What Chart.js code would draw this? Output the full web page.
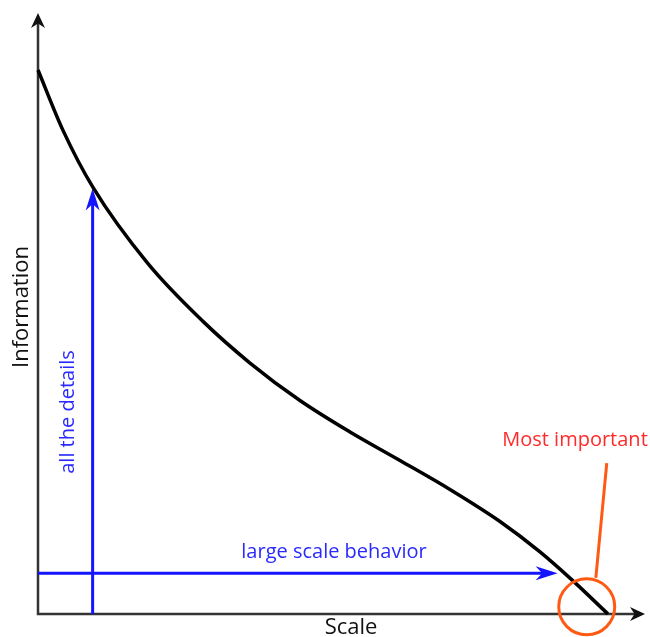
<!DOCTYPE html>
<html>
<head>
<meta charset="utf-8">
<script src="https://cdn.jsdelivr.net/npm/chart.js@4/dist/chart.umd.min.js"></script>
<style>
  html, body { margin: 0; padding: 0; background: #fff; }
  #wrap { width: 650px; height: 637px; }
</style>
</head>
<body>
<div id="wrap"><canvas id="infoChart"></canvas></div>
<script>
// curve: information vs scale (0-100 on both axes)
const scaleVals = [0, 4.12, 9.06, 18.12, 27.18, 34.93, 43.16, 51.4, 59.64, 67.87, 76.11, 82.7, 88.14, 93.9];
const infoVals = [90.52, 80.47, 70.98, 58.3, 48.69, 41.76, 35.52, 30.28, 25.54, 20.72, 15.39, 10.33, 5.51, 0];

// annotation anchors, in data units
const detailsX = 9.0;      // vertical blue arrow
const detailsTop = 70.8;
const largeY = 6.8;        // horizontal blue arrow
const largeEnd = 85.6;
const spot = [90.4, 1.2];  // orange circle centre
const leader = [[91.9, 6.0], [93.7, 25.1]];

const points = scaleVals.map((x, i) => ({ x: x, y: infoVals[i] }));

function arrowHead(ctx, x, y, angle, len, half, color) {
  ctx.save();
  ctx.translate(x, y);
  ctx.rotate(angle);
  ctx.fillStyle = color;
  ctx.beginPath();
  ctx.moveTo(0, 0);
  ctx.lineTo(-len, -half);
  ctx.lineTo(-len * 0.7, 0);
  ctx.lineTo(-len, half);
  ctx.closePath();
  ctx.fill();
  ctx.restore();
}

const sketch = {
  id: 'sketch',
  beforeDatasetsDraw(chart) {
    const ctx = chart.ctx;
    const xs = chart.scales.x, ys = chart.scales.y;
    const x0 = xs.getPixelForValue(0), y0 = ys.getPixelForValue(0);
    const xEnd = xs.getPixelForValue(100), yEnd = ys.getPixelForValue(100);
    ctx.save();
    // axes
    ctx.strokeStyle = '#333';
    ctx.lineWidth = 2.5;
    ctx.beginPath();
    ctx.moveTo(x0, yEnd + 8);
    ctx.lineTo(x0, y0);
    ctx.lineTo(xEnd - 8, y0);
    ctx.stroke();
    arrowHead(ctx, x0, yEnd, -Math.PI / 2, 15, 7, '#111');
    arrowHead(ctx, xEnd, y0, 0, 15, 7, '#111');

    // blue arrows
    const blue = '#1414ff';
    ctx.strokeStyle = blue;
    ctx.lineWidth = 3;
    const dx = xs.getPixelForValue(detailsX), dTop = ys.getPixelForValue(detailsTop);
    ctx.beginPath();
    ctx.moveTo(dx, y0);
    ctx.lineTo(dx, dTop + 12);
    ctx.stroke();
    arrowHead(ctx, dx, dTop, -Math.PI / 2, 22, 7, blue);
    const ly = ys.getPixelForValue(largeY), lEnd = xs.getPixelForValue(largeEnd);
    ctx.beginPath();
    ctx.moveTo(x0, ly);
    ctx.lineTo(lEnd - 12, ly);
    ctx.stroke();
    arrowHead(ctx, lEnd, ly, 0, 22, 7, blue);

    ctx.fillStyle = '#2a2aff';
    ctx.font = '20px "Open Sans"';
    ctx.textAlign = 'center';
    ctx.textBaseline = 'middle';
    ctx.fillText('large scale behavior', 334, ly - 21);
    ctx.save();
    ctx.translate(dx - 24, 412);
    ctx.rotate(-Math.PI / 2);
    ctx.fillText('all the details', 0, 0);
    ctx.restore();

    // axis titles
    ctx.fillStyle = '#111';
    ctx.font = '22px "Open Sans"';
    ctx.fillText('Scale', 351, y0 + 14);
    ctx.save();
    ctx.translate(22, 307);
    ctx.rotate(-Math.PI / 2);
    ctx.fillText('Information', 0, 0);
    ctx.restore();
    ctx.restore();
  },
  afterDatasetsDraw(chart) {
    const ctx = chart.ctx;
    const xs = chart.scales.x, ys = chart.scales.y;
    const orange = '#ff5a14';
    ctx.save();
    ctx.strokeStyle = orange;
    ctx.lineWidth = 3;
    ctx.beginPath();
    ctx.arc(xs.getPixelForValue(spot[0]), ys.getPixelForValue(spot[1]), 28, 0, Math.PI * 2);
    ctx.stroke();
    ctx.beginPath();
    ctx.moveTo(xs.getPixelForValue(leader[0][0]), ys.getPixelForValue(leader[0][1]));
    ctx.lineTo(xs.getPixelForValue(leader[1][0]), ys.getPixelForValue(leader[1][1]));
    ctx.stroke();
    ctx.fillStyle = '#ff2a2a';
    ctx.font = '20px "Open Sans"';
    ctx.textAlign = 'center';
    ctx.textBaseline = 'middle';
    ctx.fillText('Most important', 575, 440);
    ctx.restore();
  }
};

new Chart(document.getElementById('infoChart'), {
  type: 'line',
  data: {
    datasets: [{
      data: points,
      borderColor: '#000',
      borderWidth: 3.5,
      pointRadius: 0,
      cubicInterpolationMode: 'monotone',
      fill: false,
      clip: false
    }]
  },
  options: {
    responsive: true,
    maintainAspectRatio: false,
    animation: false,
    layout: { padding: { left: 38, right: 5, top: 13, bottom: 23 } },
    plugins: { legend: { display: false }, tooltip: { enabled: false } },
    scales: {
      x: { type: 'linear', min: 0, max: 100, display: false },
      y: { type: 'linear', min: 0, max: 100, display: false }
    }
  },
  plugins: [sketch]
});
</script>
</body>
</html>
